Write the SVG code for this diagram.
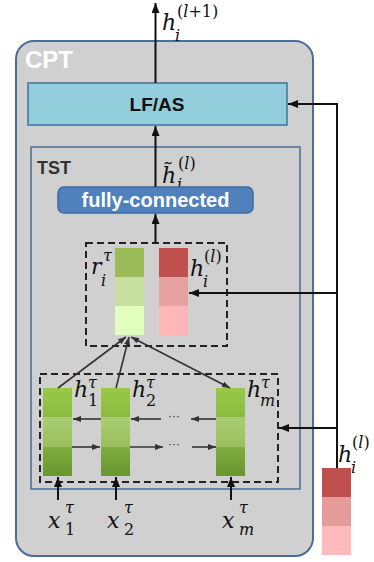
<svg xmlns="http://www.w3.org/2000/svg" width="374" height="562" viewBox="0 0 374 562">
<defs>
<marker id="ah" markerUnits="userSpaceOnUse" markerWidth="10" markerHeight="8" refX="10" refY="4" orient="auto"><path d="M0,0 L10,4 L0,8 z" fill="#111"/></marker>
<marker id="as" markerUnits="userSpaceOnUse" markerWidth="8" markerHeight="6" refX="8" refY="3" orient="auto-start-reverse"><path d="M0,0 L8,3 L0,6 z" fill="#333"/></marker>
<linearGradient id="gTop" x1="0" y1="0" x2="0" y2="1"><stop offset="0" stop-color="#98c948"/><stop offset="1" stop-color="#8bbb3e"/></linearGradient>
<linearGradient id="gMid" x1="0" y1="0" x2="0" y2="1"><stop offset="0" stop-color="#a9cd72"/><stop offset="1" stop-color="#9bc05e"/></linearGradient>
<linearGradient id="gBot" x1="0" y1="0" x2="0" y2="1"><stop offset="0" stop-color="#82ae40"/><stop offset="1" stop-color="#67952f"/></linearGradient>
</defs>
<style>
.m{font-family:"DejaVu Serif","Liberation Serif",serif;font-style:italic;fill:#111;font-size:22px}
.s{font-size:16px}
.n{font-style:normal}
.dash{fill:none;stroke:#222;stroke-width:2;stroke-dasharray:7 4}
.ln{stroke:#333;stroke-width:1.6;fill:none}
.bk{stroke:#111;stroke-width:2;fill:none}
.title{font-family:"Liberation Sans","Arial",sans-serif;font-weight:bold}
</style>
<rect x="0" y="0" width="374" height="562" fill="#fff"/>
<g id="cpt">
<rect x="16" y="41" width="297" height="515" rx="18" fill="#d0d0d0" stroke="#4a6c97" stroke-width="2"/>
<text class="title" x="25" y="68" font-size="24" fill="#fff">CPT</text>
</g>
<g id="lfas">
<rect x="28" y="83" width="259" height="42" fill="#92cddc" stroke="#41719c" stroke-width="1.5"/>
<text class="title" x="157" y="111" font-size="19" fill="#111" text-anchor="middle">LF/AS</text>
</g>
<g id="tst">
<rect x="31" y="147" width="269" height="342" fill="none" stroke="#4a6c97" stroke-width="1.5"/>
<text class="title" x="37" y="174" font-size="18" fill="#333">TST</text>
</g>
<g id="htilde-label">
<text class="m" x="162" y="183">h&#x303;<tspan class="s" x="178" y="169"><tspan class="n">(</tspan>l<tspan class="n">)</tspan></tspan><tspan class="s" x="177" y="190" font-size="14">i</tspan></text>
</g>
<g id="fc">
<rect x="58" y="187" width="195" height="26" rx="6" fill="#4f81bd" stroke="#3b6aa0" stroke-width="1.5"/>
<text class="title" x="155.5" y="207" font-size="20" fill="#fff" text-anchor="middle">fully-connected</text>
</g>
<g id="attn-box">
<rect class="dash" x="86" y="243" width="141" height="103"/>
<rect x="115" y="248" width="29" height="29" fill="#9bbb59"/>
<rect x="115" y="277" width="29" height="29" fill="#c6df9f"/>
<rect x="115" y="306" width="29" height="29" fill="#e0ffbf"/>
<rect x="159" y="248" width="29" height="29" fill="#c0504d"/>
<rect x="159" y="277" width="29" height="29" fill="#e6a1a0"/>
<rect x="159" y="306" width="29" height="30" fill="#ffb6b6"/>
<text class="m" x="91" y="274">r<tspan class="s" x="103" y="261">τ</tspan><tspan class="s" x="101" y="286">i</tspan></text>
<text class="m" x="190" y="276">h<tspan class="s" x="204" y="262"><tspan class="n">(</tspan>l<tspan class="n">)</tspan></tspan><tspan class="s" x="203" y="287">i</tspan></text>
</g>
<g id="seq-box">
<rect class="dash" x="40" y="374" width="238" height="108"/>
<g id="h1">
<rect x="43" y="388" width="29" height="29.4" fill="url(#gTop)"/>
<rect x="43" y="417.3" width="29" height="29.4" fill="url(#gMid)"/>
<rect x="43" y="446.7" width="29" height="29.3" fill="url(#gBot)"/>
<text class="m" x="74" y="397">h<tspan class="s" x="88" y="388">τ</tspan><tspan class="s n" x="88" y="406">1</tspan></text>
</g>
<g id="h2">
<rect x="101" y="388" width="29" height="29.4" fill="url(#gTop)"/>
<rect x="101" y="417.3" width="29" height="29.4" fill="url(#gMid)"/>
<rect x="101" y="446.7" width="29" height="29.3" fill="url(#gBot)"/>
<text class="m" x="132" y="397">h<tspan class="s" x="146" y="388">τ</tspan><tspan class="s n" x="146" y="406">2</tspan></text>
</g>
<g id="hm">
<rect x="216" y="388" width="29" height="29.4" fill="url(#gTop)"/>
<rect x="216" y="417.3" width="29" height="29.4" fill="url(#gMid)"/>
<rect x="216" y="446.7" width="29" height="29.3" fill="url(#gBot)"/>
<text class="m" x="247" y="397">h<tspan class="s" x="261" y="388">τ</tspan><tspan class="s" x="260" y="406">m</tspan></text>
</g>
<text x="174" y="420" font-family="Liberation Sans,sans-serif" font-size="12" fill="#333" text-anchor="middle">···</text>
<text x="174" y="448" font-family="Liberation Sans,sans-serif" font-size="12" fill="#333" text-anchor="middle">···</text>
</g>
<g id="hl-right">
<rect x="322" y="468" width="29" height="29" fill="#c0504d"/>
<rect x="322" y="497" width="29" height="29" fill="#e49b9a"/>
<rect x="322" y="526" width="29" height="29" fill="#ffbbbb"/>
<text class="m" x="338" y="462">h<tspan class="s" x="352" y="448"><tspan class="n">(</tspan>l<tspan class="n">)</tspan></tspan><tspan class="s" x="351" y="473">i</tspan></text>
</g>
<g id="inputs">
<text class="m" x="48" y="528">x<tspan class="s" x="65" y="513">τ</tspan><tspan class="s n" x="65" y="535">1</tspan></text>
<text class="m" x="107" y="528">x<tspan class="s" x="124" y="513">τ</tspan><tspan class="s n" x="124" y="535">2</tspan></text>
<text class="m" x="222" y="528">x<tspan class="s" x="239" y="513">τ</tspan><tspan class="s" x="239" y="535">m</tspan></text>
</g>
<g id="top-label">
<text class="m" x="162" y="30">h<tspan class="s" x="177" y="17"><tspan class="n">(</tspan>l<tspan class="n">+1)</tspan></tspan><tspan class="s" x="175" y="41">i</tspan></text>
</g>
<g id="connectors">
<line class="bk" x1="155.5" y1="83" x2="155.5" y2="3" marker-end="url(#ah)"/>
<line class="bk" x1="155.5" y1="187" x2="155.5" y2="126" marker-end="url(#ah)"/>
<line class="bk" x1="155.5" y1="243" x2="155.5" y2="214" marker-end="url(#ah)"/>
<line class="bk" x1="337" y1="104" x2="337" y2="468"/>
<line class="bk" x1="338" y1="104" x2="288" y2="104" marker-end="url(#ah)"/>
<line class="bk" x1="337" y1="293" x2="189" y2="293" marker-end="url(#ah)"/>
<line class="bk" x1="337" y1="428" x2="279" y2="428" marker-end="url(#ah)"/>
<line class="ln" x1="58" y1="388" x2="126" y2="337" marker-end="url(#as)"/>
<line class="ln" x1="116" y1="388" x2="129" y2="337" marker-end="url(#as)"/>
<line class="ln" x1="131" y1="337" x2="230" y2="388" marker-start="url(#as)" marker-end="url(#as)"/>
<line class="ln" x1="101" y1="419" x2="73" y2="419" marker-end="url(#as)"/>
<line class="ln" x1="161" y1="419" x2="131" y2="419" marker-end="url(#as)"/>
<line class="ln" x1="216" y1="419" x2="191" y2="419" marker-end="url(#as)"/>
<line class="ln" x1="72" y1="447" x2="100" y2="447" marker-end="url(#as)"/>
<line class="ln" x1="130" y1="447" x2="163" y2="447" marker-end="url(#as)"/>
<line class="ln" x1="192" y1="447" x2="216" y2="447" marker-end="url(#as)"/>
<line class="bk" x1="58" y1="500" x2="58" y2="477" marker-end="url(#ah)"/>
<line class="bk" x1="116" y1="500" x2="116" y2="477" marker-end="url(#ah)"/>
<line class="bk" x1="231" y1="500" x2="231" y2="477" marker-end="url(#ah)"/>
</g>
</svg>
